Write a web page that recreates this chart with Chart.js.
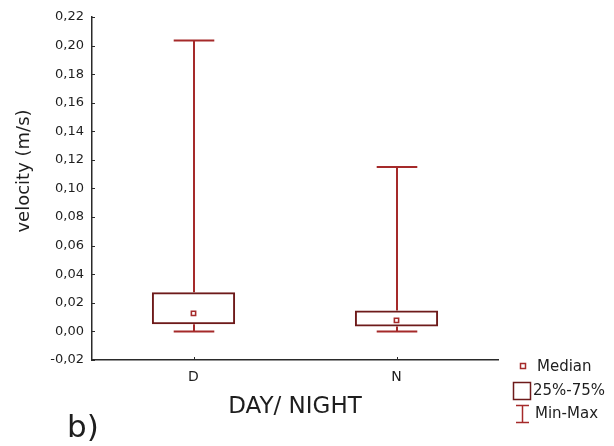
<!DOCTYPE html>
<html>
<head>
<meta charset="utf-8">
<script src="https://cdn.jsdelivr.net/npm/chart.js@4.4.1/dist/chart.umd.min.js"></script>
<style>
    html, body { margin: 0; padding: 0; background: #fff; }
    #wrap { width: 614px; height: 446px; position: relative; }
</style>
</head>
<body>
<div id="wrap"><canvas id="boxChart"></canvas></div>
<script>
// Data
const categories = ['D', 'N'];
const minValues = [0.0, 0.0];
const q1Values = [0.005, 0.0035];
const medianValues = [0.0126, 0.0077];
const q3Values = [0.0274, 0.0147];
const maxValues = [0.2035, 0.115];

// Axis range
const yMin = -0.02;
const yMax = 0.22;
const yStep = 0.02;

const FONT = "'DejaVu Sans', Arial, sans-serif";
const boxColor = '#6e1a1a';
const whiskerColor = '#a52a2a';
const axisColor = '#2a2a2a';
const textColor = '#1e1e1e';

function fmt(v) {
    let n = Math.round(v * 100) / 100;
    if (n === 0) n = 0;
    return n.toFixed(2).replace('.', ',');
}

function line(ctx, x1, y1, x2, y2) {
    ctx.beginPath();
    ctx.moveTo(x1, y1);
    ctx.lineTo(x2, y2);
    ctx.stroke();
}

// Whiskers, inner ticks, axis title, legend
const boxPlotExtras = {
    id: 'boxPlotExtras',
    beforeDatasetsDraw(chart) {
        const { ctx, scales: { x, y } } = chart;
        const catWidth = x.getPixelForValue(1) - x.getPixelForValue(0);
        const capHalf = catWidth * 0.1;
        ctx.save();
        ctx.strokeStyle = whiskerColor;
        ctx.lineWidth = 2;
        categories.forEach((c, i) => {
            const cx = Math.round(x.getPixelForValue(i));
            const yTop = y.getPixelForValue(maxValues[i]);
            const yBot = y.getPixelForValue(minValues[i]);
            line(ctx, cx, y.getPixelForValue(q3Values[i]), cx, yTop);
            line(ctx, cx - capHalf, yTop, cx + capHalf, yTop);
            line(ctx, cx, y.getPixelForValue(q1Values[i]), cx, yBot);
            line(ctx, cx - capHalf, yBot, cx + capHalf, yBot);
        });
        ctx.restore();
    },
    afterDraw(chart) {
        const { ctx, chartArea, scales: { x, y } } = chart;
        ctx.save();
        // small ticks pointing into the plot
        ctx.strokeStyle = axisColor;
        ctx.lineWidth = 1;
        y.ticks.forEach((t, i) => {
            const py = Math.round(y.getPixelForTick(i)) + 0.5;
            line(ctx, chartArea.left, py, chartArea.left + 3, py);
        });
        categories.forEach((c, i) => {
            const px = Math.round(x.getPixelForValue(i)) + 0.5;
            line(ctx, px, chartArea.bottom, px, chartArea.bottom - 3);
        });

        // y axis title
        ctx.fillStyle = textColor;
        ctx.font = '18px ' + FONT;
        ctx.textAlign = 'center';
        ctx.textBaseline = 'middle';
        ctx.translate(24, 171);
        ctx.rotate(-Math.PI / 2);
        ctx.fillText('velocity (m/s)', 0, 0);
        ctx.setTransform(1, 0, 0, 1, 0, 0);

        // panel letter
        ctx.font = '31px ' + FONT;
        ctx.textAlign = 'left';
        ctx.textBaseline = 'alphabetic';
        ctx.fillText('b)', 67, 437);

        // legend
        ctx.font = '15px ' + FONT;
        ctx.textBaseline = 'middle';
        ctx.strokeStyle = whiskerColor;
        ctx.fillStyle = '#fff';
        ctx.lineWidth = 1.5;
        ctx.fillRect(520.5, 363.5, 5, 5);
        ctx.strokeRect(520.5, 363.5, 5, 5);
        ctx.strokeStyle = boxColor;
        ctx.strokeRect(513.5, 382.5, 17, 17);
        ctx.strokeStyle = whiskerColor;
        line(ctx, 522.5, 405, 522.5, 423);
        line(ctx, 516, 405.5, 529, 405.5);
        line(ctx, 516, 422.5, 529, 422.5);
        ctx.fillStyle = textColor;
        ctx.fillText('Median', 537, 367);
        ctx.fillText('25%-75%', 533, 391);
        ctx.fillText('Min-Max', 535, 414);
        ctx.restore();
    }
};

const ctx = document.getElementById('boxChart').getContext('2d');
new Chart(ctx, {
    data: {
        labels: categories,
        datasets: [
            {
                type: 'bar',
                label: '25%-75%',
                data: categories.map((c, i) => [q1Values[i], q3Values[i]]),
                backgroundColor: 'rgba(0,0,0,0)',
                borderColor: boxColor,
                borderWidth: 2,
                borderSkipped: false,
                barPercentage: 0.41,
                categoryPercentage: 1.0
            },
            {
                type: 'line',
                label: 'Median',
                data: medianValues,
                showLine: false,
                pointStyle: 'rect',
                pointRadius: 3,
                borderColor: whiskerColor,
                backgroundColor: '#fff',
                borderWidth: 1.6
            }
        ]
    },
    options: {
        responsive: true,
        maintainAspectRatio: false,
        animation: false,
        events: [],
        layout: { padding: { top: 17, right: 116, bottom: 0, left: 0 } },
        plugins: {
            legend: { display: false },
            tooltip: { enabled: false }
        },
        scales: {
            x: {
                offset: true,
                grid: { display: false, drawTicks: false },
                border: { color: axisColor, width: 1.5 },
                ticks: { color: textColor, padding: 9, font: { family: FONT, size: 14 } },
                title: {
                    display: true,
                    text: 'DAY/ NIGHT',
                    color: textColor,
                    font: { family: FONT, size: 23 },
                    padding: { top: 0, bottom: 25 }
                },
                afterFit(scale) { scale.height = 86; }
            },
            y: {
                min: yMin,
                max: yMax,
                grid: { display: false, drawTicks: false },
                border: { color: axisColor, width: 1.5 },
                ticks: {
                    stepSize: yStep,
                    color: textColor,
                    padding: 8,
                    font: { family: FONT, size: 13 },
                    callback: (v) => fmt(v)
                },
                afterFit(scale) { scale.width = 92; }
            }
        }
    },
    plugins: [boxPlotExtras]
});
</script>
</body>
</html>
